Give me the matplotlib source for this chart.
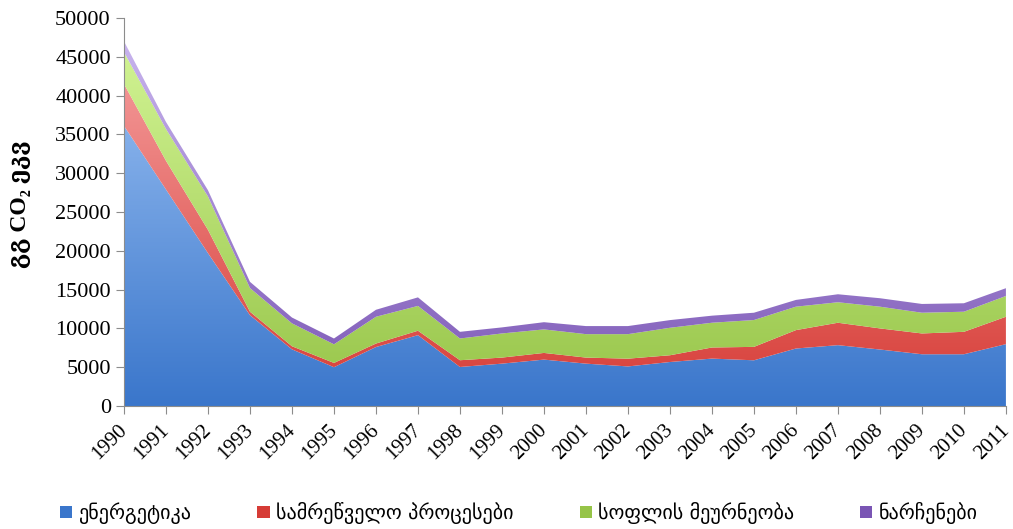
import numpy as np
import matplotlib
matplotlib.use("Agg")
import matplotlib.pyplot as plt
import matplotlib.transforms as mtransforms
from matplotlib.colors import LinearSegmentedColormap
from matplotlib.patches import Patch

# GHG emissions by sector, Gg CO2 eq
years = list(range(1990, 2012))
energy = [36100, 27900, 19700, 11700, 7300, 5000, 7600, 9130, 5030, 5460, 5980,
          5460, 5100, 5670, 6110, 5890, 7410, 7840, 7280, 6670, 6670, 7970]
industry = [5400, 3700, 3000, 450, 400, 550, 450, 570, 870, 780, 860,
            780, 1000, 870, 1430, 1730, 2370, 2890, 2720, 2680, 2890, 3530]
agriculture = [4100, 4100, 4300, 3050, 2950, 2400, 3450, 3200, 2800, 3110, 3030,
               3020, 3160, 3540, 3190, 3460, 3020, 2640, 2800, 2670, 2590, 2680]
waste = [1400, 900, 800, 800, 750, 750, 900, 1100, 860, 780, 930,
         1040, 1040, 990, 910, 940, 870, 1030, 1090, 1130, 1090, 1000]

labels = ["ენერგეტიკა", "სამრეწველო პროცესები", "სოფლის მეურნეობა", "ნარჩენები"]
# (bottom colour, top colour) for the vertical gradient of each band
colors = [("#3a76cb", "#9cc2f4"),
          ("#d63c36", "#f6a0a0"),
          ("#96c448", "#d2f494"),
          ("#7a55b4", "#c8b4ee")]

SERIF = ["Liberation Serif", "DejaVu Serif"]

fig = plt.figure(figsize=(10.13, 5.29), dpi=100)
ax = fig.add_axes([0.1224, 0.2325, 0.8706, 0.7335])

x = np.array(years)
base = np.zeros(len(years))
for vals, (c_bot, c_top) in zip([energy, industry, agriculture, waste], colors):
    top = base + np.array(vals)
    poly = ax.fill_between(x, base, top, facecolor="none", lw=0)
    cmap = LinearSegmentedColormap.from_list("g", [c_bot, c_top])
    im = ax.imshow(np.linspace(0, 1, 256).reshape(-1, 1), cmap=cmap, aspect="auto",
                   origin="lower", extent=[x[0], x[-1], 0, 47000], zorder=1)
    im.set_clip_path(poly.get_paths()[0], transform=ax.transData)
    base = top

ax.set_xlim(1990, 2011)
ax.set_ylim(0, 50000)
ax.set_yticks(range(0, 50001, 5000))
ax.set_xticks(years)
ax.set_xticklabels([])
for t in ax.get_yticklabels():
    t.set_family(SERIF)
    t.set_fontsize(16)

# rotated year labels, nudged so the last one stays inside the figure
offset = mtransforms.ScaledTranslation(-6 / 100, -15 / 100, fig.dpi_scale_trans)
for yr in years:
    ax.text(yr, 0, str(yr), transform=ax.get_xaxis_transform() + offset,
            rotation=45, ha="right", va="top", rotation_mode="anchor",
            family=SERIF, fontsize=15)

for s in ["top", "right"]:
    ax.spines[s].set_visible(False)
for s in ["left", "bottom"]:
    ax.spines[s].set_color("#8c8c8c")
ax.tick_params(axis="both", colors="#8c8c8c", labelcolor="black", length=6, direction="out")

ax.set_ylabel("გგ CO₂ ეკვ", family=SERIF, fontsize=17, fontweight="bold")
ax.yaxis.set_label_coords(-0.105, 0.52)

handles = [Patch(facecolor=c_bot, edgecolor="none") for c_bot, c_top in colors]
fig.legend(handles, labels, loc="center", bbox_to_anchor=(0.512, 0.03), ncol=4, frameon=False,
           fontsize=14.5, handlelength=0.6, handleheight=0.6, handletextpad=0.3, columnspacing=3.3)

fig.savefig("out.png", dpi=100)
